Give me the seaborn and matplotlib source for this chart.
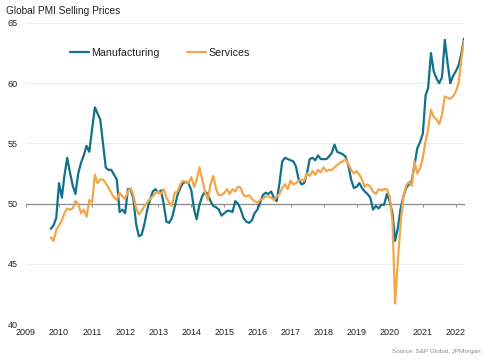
import numpy as np
import pandas as pd
import matplotlib
matplotlib.use("Agg")
import matplotlib.pyplot as plt
import seaborn as sns

# ---- data (monthly, Oct 2009 .. Apr 2022) ----
start_month = "2009-10-01"
manufacturing = [
    47.9, 48.2, 48.8, 51.7, 50.5, 52.3, 53.8, 52.6, 51.5, 50.8, 52.5, 53.4,
    54.0, 54.8, 54.3, 56.2, 58.0, 57.5, 57.0, 55.0, 53.0, 52.8, 52.8, 52.4,
    52.0, 49.3, 49.5, 49.2, 51.2, 51.2, 50.4, 48.3, 47.3, 47.4, 48.3, 49.5,
    50.3, 51.0, 51.2, 50.9, 51.1, 50.0, 48.5, 48.4, 48.8, 49.7, 50.7, 51.3,
    51.7, 51.8, 51.7, 51.1, 49.5, 48.7, 49.9, 50.6, 51.0, 50.8, 50.2, 49.8,
    49.7, 49.5, 49.0, 49.2, 49.4, 49.4, 49.3, 50.2, 50.0, 49.5, 48.8, 48.5,
    48.4, 48.6, 49.2, 49.5, 50.1, 50.7, 50.9, 50.8, 51.0, 50.5, 50.2, 51.7,
    53.5, 53.8, 53.7, 53.6, 53.5, 53.1, 52.0, 51.6, 51.7, 52.5, 53.7, 53.8,
    53.6, 54.0, 53.7, 53.7, 53.7, 53.9, 54.2, 54.9, 54.3, 54.2, 54.1, 53.9,
    53.2, 52.0, 51.3, 51.4, 51.7, 51.3, 51.0, 50.8, 50.5, 49.5, 49.8, 49.6,
    49.9, 49.9, 50.8, 50.2, 49.2, 46.9, 48.0, 49.6, 50.6, 51.3, 51.6, 51.9,
    53.2, 54.6, 55.1, 55.8, 59.0, 59.6, 62.5, 61.0, 60.4, 60.0, 60.5, 63.6,
    61.7, 60.0, 60.6, 61.0, 61.5, 62.4, 63.7,
]
services = [
    47.2, 46.9, 47.8, 48.2, 48.6, 49.2, 49.6, 49.5, 49.6, 50.2, 50.0, 49.2,
    49.5, 48.9, 50.3, 50.1, 52.4, 51.7, 52.0, 52.0, 51.7, 51.3, 50.9, 50.5,
    50.3, 50.9, 50.6, 50.4, 51.0, 51.3, 50.7, 49.6, 49.1, 49.4, 49.8, 50.1,
    50.4, 50.6, 50.9, 51.0, 50.8, 51.2, 50.5, 50.1, 49.8, 50.9, 51.0, 51.6,
    51.9, 51.8, 51.7, 52.2, 51.4, 52.0, 53.0, 52.0, 51.0, 50.3, 51.6, 52.3,
    51.2, 50.7, 50.7, 50.9, 51.2, 50.8, 51.2, 51.0, 51.4, 51.3, 50.7, 50.6,
    50.7, 50.4, 50.2, 50.1, 50.3, 50.4, 50.6, 50.6, 50.5, 50.3, 50.6, 50.8,
    51.3, 51.6, 51.2, 51.9, 51.6, 51.7, 51.9, 52.0, 51.9, 52.5, 52.3, 52.7,
    52.4, 52.8, 52.6, 53.0, 52.7, 52.8, 52.8, 53.0, 53.2, 53.4, 53.5, 53.7,
    53.3, 52.8, 52.5, 52.7, 52.4, 52.0, 51.4, 51.6, 51.4, 51.0, 50.8, 51.2,
    51.1, 51.2, 51.2, 50.6, 48.5, 41.7, 45.3, 48.4, 50.6, 51.5, 51.8, 51.5,
    53.5, 52.5, 52.9, 53.8, 55.2, 56.2, 57.8, 57.2, 57.0, 56.6, 57.4, 58.9,
    58.8, 58.7, 58.9, 59.3, 60.0, 61.9, 63.5,
]
series_names = ["Manufacturing", "Services"]
year_labels = [str(y) for y in range(2009, 2023)]
y_ticks = [40, 45, 50, 55, 60, 65]

dates = pd.date_range(start_month, periods=len(manufacturing), freq="MS")
df = pd.DataFrame({
    "date": np.concatenate([dates, dates]),
    "value": manufacturing + services,
    "series": [series_names[0]] * len(manufacturing) + [series_names[1]] * len(services),
})

# ---- style ----
sns.set_style("white")
plt.rcParams["font.family"] = ["Liberation Sans", "DejaVu Sans"]

W, H = 489, 362
fig = plt.figure(figsize=(W / 100, H / 100), dpi=100)
ax = fig.add_axes([26 / W, 1 - 324 / H, (464 - 26) / W, (324 - 23) / H])

palette = {"Manufacturing": "#13708b", "Services": "#f2a64b"}
sns.lineplot(data=df, x="date", y="value", hue="series", palette=palette,
             linewidth=1.6, ax=ax, legend=True)

ax.set_xlim(pd.Timestamp("2009-01-01"), pd.Timestamp("2022-04-01"))
ax.set_ylim(40, 65)
ax.set_xlabel("")
ax.set_ylabel("")

# y grid
ax.set_yticks(y_ticks)
ax.set_yticklabels([str(v) for v in y_ticks], fontsize=6.5, color="#222222")
for v in y_ticks:
    if v != 50:
        ax.axhline(v, color="#ececec", lw=0.7, zorder=0)
ax.tick_params(axis="y", length=0, pad=6)

# x tick labels at bottom (no tick marks)
year_pos = [pd.Timestamp(f"{y}-01-01") for y in year_labels]
ax.set_xticks(year_pos)
ax.set_xticklabels(year_labels, fontsize=6.5, color="#222222")
ax.tick_params(axis="x", length=0, pad=3)

for s in ax.spines.values():
    s.set_visible(False)

# axis line at 50 with year ticks
sec = ax.secondary_xaxis((50 - 40) / (65 - 40))
sec.set_xticks(year_pos)
sec.set_xticklabels([])
sec.tick_params(axis="x", direction="out", length=2.5, width=0.7, color="#8c8c8c")
sec.spines["bottom"].set_color("#8c8c8c")
sec.spines["bottom"].set_linewidth(0.9)
for k in ("top", "left", "right"):
    if k in sec.spines:
        sec.spines[k].set_visible(False)

# legend
leg = ax.legend(loc="center left", bbox_to_anchor=(60 / W, 1 - 53 / H),
                bbox_transform=fig.transFigure, ncol=2, frameon=False,
                fontsize=7.7, handlelength=1.8, handletextpad=0.2,
                columnspacing=2.6)
for t in leg.get_texts():
    t.set_color("#222222")

fig.text(6 / W, 1 - 11 / H, "Global PMI Selling Prices", fontsize=7.3,
         color="#222222", va="center", ha="left")
fig.text(481 / W, 1 - 352 / H, "Source: S&P Global, JPMorgan", fontsize=4.6,
         color="#8a8a8a", va="center", ha="right")

fig.savefig("out.png", dpi=100)
